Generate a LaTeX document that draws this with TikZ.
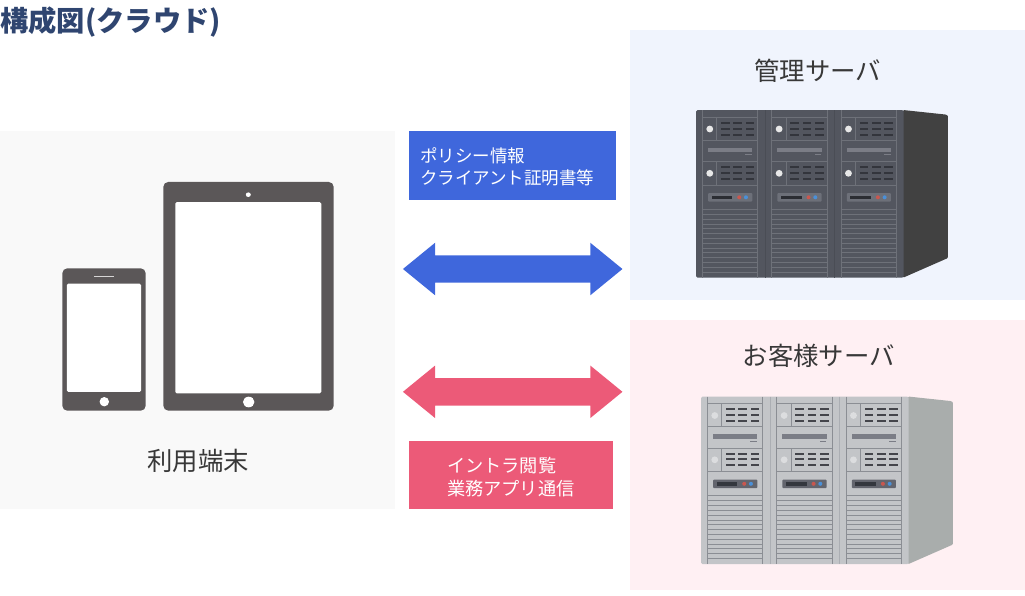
\documentclass[tikz,border=0pt]{standalone}
\usepackage{fontspec}
\usepackage{xcolor}
\setmainfont{Noto Sans CJK JP}
\usetikzlibrary{shapes.arrows,shapes.geometric}

\definecolor{bluetone}{HTML}{3F67DC}
\definecolor{pinktone}{HTML}{EC5A78}
\definecolor{devicegray}{HTML}{5B5758}
\definecolor{adminwash}{HTML}{F0F4FD}
\definecolor{userwash}{HTML}{FFF0F3}
\definecolor{titlenavy}{HTML}{2F4570}
\definecolor{ledred}{HTML}{C9574F}
\definecolor{ledblue}{HTML}{4A90D9}
% dark rack
\definecolor{darkbody}{HTML}{53565F}
\definecolor{darkline}{HTML}{6E7179}
\definecolor{darkseam}{HTML}{4A4D55}
\definecolor{darkside}{HTML}{414141}
\definecolor{darkdot}{HTML}{E8E8E8}
\definecolor{darkgrill}{HTML}{33353C}
\definecolor{darkslot}{HTML}{7B7D86}
\definecolor{darkpanel}{HTML}{6D7079}
\definecolor{darkled}{HTML}{2B2D33}
% light rack
\definecolor{lightbody}{HTML}{C3C5C8}
\definecolor{lightline}{HTML}{8B8E94}
\definecolor{lightseam}{HTML}{ABAEB3}
\definecolor{lightside}{HTML}{A9ADAC}
\definecolor{lightdot}{HTML}{DCDDDF}
\definecolor{lightgrill}{HTML}{44454B}
\definecolor{lightslot}{HTML}{7B7D86}
\definecolor{lightpanel}{HTML}{63656E}
\definecolor{lightled}{HTML}{34373E}

\tikzset{
	backdrop/.style={anchor=north west,inner sep=0,outer sep=0},
	blockarrow/.style={
			double arrow,inner sep=0,outer sep=0,
			minimum height=219.5pt,minimum width=52.3pt,
			double arrow head extend=12.6pt,double arrow tip angle=78.5
		},
	infobox/.style={text=white,align=left,inner ysep=0,outer sep=0,minimum height=68.5pt},
	device/.style={fill=devicegray,rounded corners=5pt,inner sep=0,outer sep=0},
	screen/.style={fill=white,rounded corners=1.5pt,inner sep=0,outer sep=0},
	hole/.style={fill=white,ellipse,inner sep=0,outer sep=0}
}
\tikzstyle{caption} = [text=black!78,font=\fontsize{25.4}{30}\selectfont]

\newcommand{\serverrack}[2]{%
	\begin{scope}[shift={#1},xscale=1.005]
		\fill[#2side] (206,0) -- (248,4.5) [rounded corners=1pt] -- (250.7,5.5) -- (250.7,148) -- (206,167.7) -- cycle;
		\fill[#2body,rounded corners=1.5pt] (0,0) rectangle (206.7,167.7);
		\foreach \u in {0,69,138} {
				\begin{scope}[xshift=\u pt]
					\draw[#2line,line width=.8pt] (6.3,0) -- (6.3,167.7) (61.3,0) -- (61.3,167.7);
					\foreach \h in {7.3,30,51.7,75,99} {\draw[#2line,line width=.8pt] (6.3,\h) -- (61.3,\h);}
					\foreach \k in {0,...,12} {\draw[#2line,line width=.7pt] (6.3,104.3+4.8*\k) -- (61.3,104.3+4.8*\k);}
					\draw[#2line,line width=.8pt] (20.7,7.3) -- (20.7,30) (20.7,51.7) -- (20.7,75);
					\foreach \g in {0,44.3} {
							\fill[#2dot] (13.7,19+\g) circle (3.4);
							\foreach \b in {0,12.3,24.6} {
									\foreach \c in {12.7,18.6,24.5} {\fill[#2grill] (24.7+\b,\c+\g-1) rectangle (33.4+\b,\c+\g+1);}
								}
						}
					\fill[#2slot] (12,37.7) rectangle (56,42.2);
					\fill[#2slot] (49,44.1) rectangle (55.7,45.3);
					\fill[#2panel,rounded corners=1pt] (12,83) rectangle (56,91.7);
					\fill[#2led] (15.7,85.7) rectangle (36.3,89.3);
					\fill[ledred] (43,87.3) circle (2);
					\fill[ledblue] (49.7,87.3) circle (2);
				\end{scope}
				\ifnum\u<138 \draw[#2seam,line width=.8pt] (69+\u,0) -- (69+\u,167.7);\fi
			}
	\end{scope}%
}

\begin{document}
\begin{tikzpicture}[x=1pt,y=-1pt]
	\useasboundingbox (0,0) rectangle (1025,595);

	% Backgrounds
	\node (clientbg) [backdrop,fill=black!2.5,minimum width=395pt,minimum height=378pt] at (0,131) {};
	\node (adminbg) [backdrop,fill=adminwash,minimum width=395pt,minimum height=270pt] at (630,30) {};
	\node (userbg) [backdrop,fill=userwash,minimum width=395pt,minimum height=270pt] at (630,320) {};

	% Title and labels
	\node (title) [anchor=west,inner sep=0,text=titlenavy,font=\bfseries\fontsize{28.3}{34}\selectfont] at (0,22) {構成図(クラウド)};
	\node (adminlabel) [caption] at (817.7,71) {管理サーバ};
	\node (userlabel) [caption] at (818.7,356) {お客様サーバ};
	\node (clientlabel) [caption] at (198,461) {利用端末};

	% Devices
	\node (tablet) [device,minimum width=170.4pt,minimum height=228.7pt] at (248.5,296.3) {};
	\node (tabletscreen) [screen,minimum width=146pt,minimum height=191.3pt] at (248.3,297.7) {};
	\node (tabletcam) [hole,minimum width=5pt,minimum height=4.6pt] at (248.3,194.7) {};
	\node (tablethome) [hole,minimum width=11.5pt,minimum height=10.6pt] at (248.7,402) {};
	\node (phone) [device,minimum width=83.4pt,minimum height=142.4pt] at (104,339.5) {};
	\node (phonescreen) [screen,minimum width=74.3pt,minimum height=108.3pt] at (103.9,337.8) {};
	\node (phonespeaker) [fill=white!75!devicegray,inner sep=0,minimum width=20.3pt,minimum height=1.2pt] at (104.2,276.3) {};
	\node (phonehome) [hole,minimum width=9.4pt,minimum height=9.4pt] at (104.3,401.7) {};

	% Servers
	\serverrack{(696,110)}{dark}
	\serverrack{(701,396.5)}{light}

	% Arrows
	\node (adminarrow) [blockarrow,fill=bluetone] at (512.7,269) {\rule{0pt}{27pt}};
	\node (userarrow) [blockarrow,fill=pinktone] at (512.7,391.8) {\rule{0pt}{27pt}};

	% Boxes
	\node (adminbox) [infobox,fill=bluetone,inner xsep=11pt,text width=185pt,font=\fontsize{17.5}{22}\selectfont] at (512.5,165.4) {\rule{0pt}{17pt}ポリシー情報\\クライアント証明書等};
	\node (userbox) [infobox,fill=pinktone,inner xsep=38pt,text width=128pt,font=\fontsize{18.2}{23}\selectfont] at (511,475) {\rule{0pt}{18.5pt}イントラ閲覧\\業務アプリ通信};

\end{tikzpicture}
\end{document}
